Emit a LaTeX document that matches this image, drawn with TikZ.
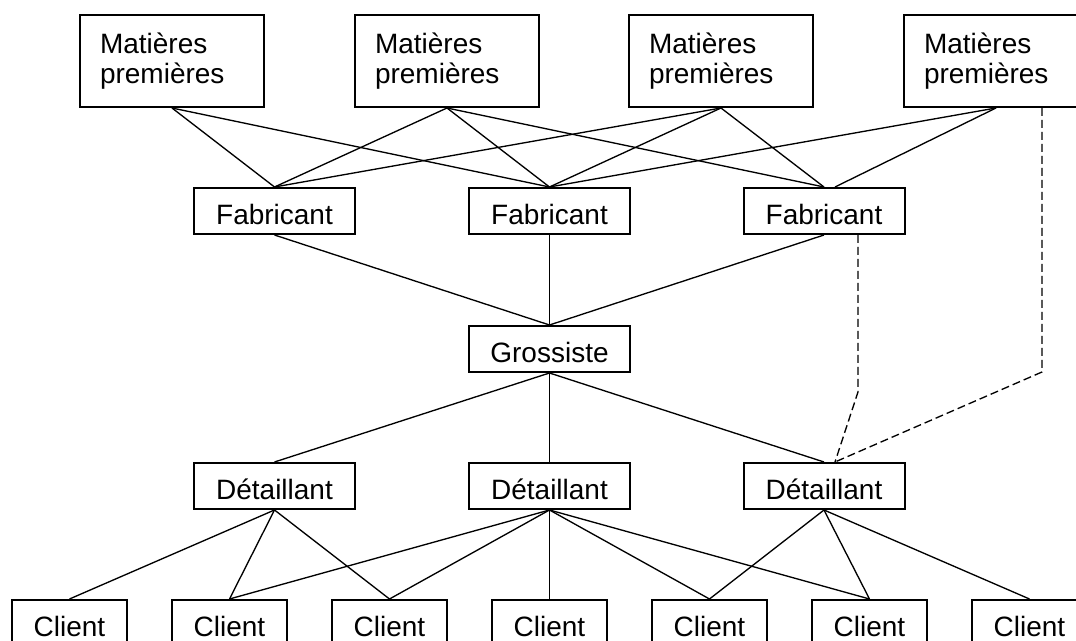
\documentclass[tikz,border=0pt]{standalone}
\usepackage{fontspec}
\setmainfont{Liberation Sans}
\begin{document}
\begin{tikzpicture}[x=0.75pt,y=-0.75pt,
  box/.style={draw, line width=1.5pt, inner sep=0pt, font=\fontsize{21}{22.5}\selectfont},
  mp/.style={box, minimum width=138pt, minimum height=69pt, text width=108pt, inner xsep=15pt, align=left},
  small/.style={box, minimum height=34.5pt, text height=21pt, text depth=0pt},
  mid/.style={small, minimum width=120.75pt},
  cl/.style={small, minimum width=86.25pt},
  link/.style={line width=1pt},
  dlink/.style={line width=1pt, dash pattern=on 6pt off 3pt}]
\useasboundingbox (0,0) rectangle (1076,641);
% raw materials
\node[mp] (mp1) at (172,61) {Matières\\premières};
\node[mp] (mp2) at (447,61) {Matières\\premières};
\node[mp] (mp3) at (721,61) {Matières\\premières};
\node[mp] (mp4) at (996,61) {Matières\\premières};
% manufacturers
\node[mid] (f1) at (274.5,211) {Fabricant};
\node[mid] (f2) at (549.5,211) {Fabricant};
\node[mid] (f3) at (824,211) {Fabricant};
% wholesaler
\node[mid] (g) at (549.5,349) {Grossiste};
% retailers
\node[mid] (d1) at (274.5,486) {Détaillant};
\node[mid] (d2) at (549.5,486) {Détaillant};
\node[mid] (d3) at (824,486) {Détaillant};
% clients
\node[cl] (c1) at (69.5,623) {Client};
\node[cl] (c2) at (229.5,623) {Client};
\node[cl] (c3) at (389.5,623) {Client};
\node[cl] (c4) at (549.5,623) {Client};
\node[cl] (c5) at (709.5,623) {Client};
\node[cl] (c6) at (869.5,623) {Client};
\node[cl] (c7) at (1029.5,623) {Client};
% bend points of dashed paths
\coordinate (k1) at (1042,372);
\coordinate (k2) at (858,392);
% solid links
\draw[link] (mp1.south) -- (f1.north);
\draw[link] (mp1.south) -- (f2.north);
\draw[link] (mp2.south) -- (f1.north);
\draw[link] (mp2.south) -- (f2.north);
\draw[link] (mp2.south) -- (f3.north);
\draw[link] (mp3.south) -- (f1.north);
\draw[link] (mp3.south) -- (f2.north);
\draw[link] (mp3.south) -- (f3.north);
\draw[link] (mp4.south) -- (f2.north);
\draw[link] (mp4.south) -- ([xshift=8.25pt]f3.north);
\draw[link] (f1.south) -- (g.north);
\draw[link] (f2.south) -- (g.north);
\draw[link] (f3.south) -- (g.north);
\draw[link] (g.south) -- (d1.north);
\draw[link] (g.south) -- (d2.north);
\draw[link] (g.south) -- (d3.north);
\draw[link] (d1.south) -- (c1.north);
\draw[link] (d1.south) -- (c2.north);
\draw[link] (d1.south) -- (c3.north);
\draw[link] (d2.south) -- (c2.north);
\draw[link] (d2.south) -- (c3.north);
\draw[link] (d2.south) -- (c4.north);
\draw[link] (d2.south) -- (c5.north);
\draw[link] (d2.south) -- (c6.north);
\draw[link] (d3.south) -- (c5.north);
\draw[link] (d3.south) -- (c6.north);
\draw[link] (d3.south) -- (c7.north);
% dashed links
\draw[dlink] ([xshift=34.5pt]mp4.south) -- (k1) -- ([xshift=8.25pt]d3.north);
\draw[dlink] ([xshift=25.5pt]f3.south) -- (k2) -- ([xshift=8.25pt]d3.north);
\end{tikzpicture}
\end{document}
